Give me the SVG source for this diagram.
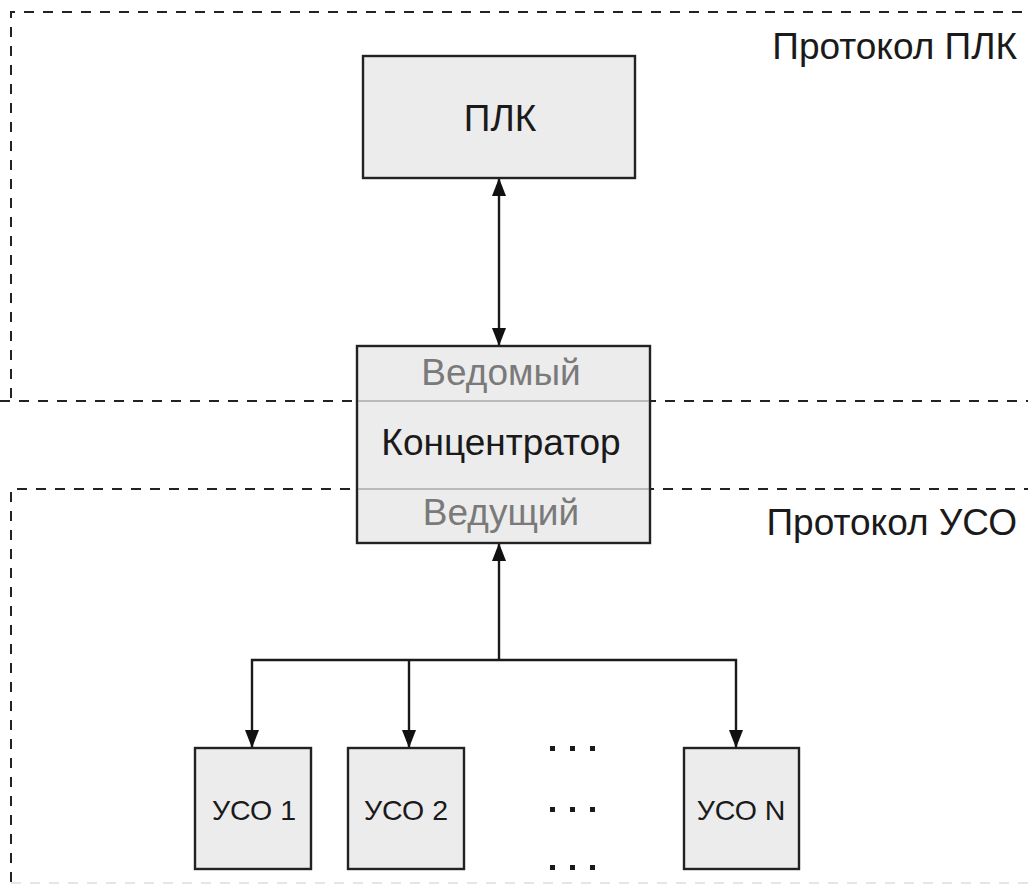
<svg xmlns="http://www.w3.org/2000/svg" width="1028" height="886" viewBox="0 0 1028 886">
<style>
.zone{fill:none;stroke:#222;stroke-width:2;stroke-dasharray:10 9}
.zonefaint{fill:none;stroke:#ddd;stroke-width:1.6;stroke-dasharray:10 9}
.box{fill:#ececec;stroke:#222;stroke-width:2.4}
.sep{stroke:#888;stroke-width:1}
.t{font-family:"Liberation Sans",Arial,sans-serif;fill:#1a1a1a}
.g{font-family:"Liberation Sans",Arial,sans-serif;fill:#7a7a7a}
.conn{fill:none;stroke:#1a1a1a;stroke-width:2.4}
.dot{fill:#1a1a1a}
</style>
<defs>
<marker id="ahs" viewBox="0 0 18 14" refX="18" refY="7" markerWidth="18" markerHeight="14" markerUnits="userSpaceOnUse" orient="auto-start-reverse">
<path d="M0,0 L18,7 L0,14 Z" fill="#111"/>
</marker>
</defs>
<g id="zones">
<path class="zone" d="M11,398 L11,12 L1028,12"/>
<path class="zone" d="M0,401 L1028,401"/>
<path class="zone" d="M11,882 L11,489 L1028,489"/>
<path class="zonefaint" d="M11,883 L1028,883"/>
<text class="t" x="1017" y="59" font-size="37" text-anchor="end">Протокол ПЛК</text>
<text class="t" x="1017" y="535" font-size="37" text-anchor="end">Протокол УСО</text>
</g>
<g id="connectors">
<line class="conn" x1="499" y1="346" x2="499" y2="178" marker-start="url(#ahs)" marker-end="url(#ahs)"/>
<line class="conn" x1="499" y1="660" x2="499" y2="543" marker-end="url(#ahs)"/>
<path class="conn" d="M252,748 L252,660 L736,660 L736,748" marker-start="url(#ahs)" marker-end="url(#ahs)"/>
<line class="conn" x1="409" y1="660" x2="409" y2="748" marker-end="url(#ahs)"/>
</g>
<g id="plc">
<rect class="box" x="363" y="56" width="272" height="122"/>
<text class="t" x="500" y="131" font-size="37" text-anchor="middle">ПЛК</text>
</g>
<g id="hub">
<rect class="box" x="357" y="346" width="293" height="197"/>
<line class="sep" x1="358" y1="401" x2="649" y2="401"/>
<line class="sep" x1="358" y1="489" x2="649" y2="489"/>
<text class="g" x="501" y="385" font-size="37" text-anchor="middle">Ведомый</text>
<text class="t" x="501" y="455" font-size="37" text-anchor="middle">Концентратор</text>
<text class="g" x="501" y="525" font-size="37" text-anchor="middle">Ведущий</text>
</g>
<g id="uso1">
<rect class="box" x="195" y="748" width="116" height="121"/>
<text class="t" x="254" y="820" font-size="28.5" text-anchor="middle">УСО 1</text>
</g>
<g id="uso2">
<rect class="box" x="348" y="748" width="116" height="121"/>
<text class="t" x="406" y="820" font-size="28.5" text-anchor="middle">УСО 2</text>
</g>
<g id="dots">
<rect class="dot" x="550" y="746" width="5" height="5"/>
<rect class="dot" x="570" y="746" width="5" height="5"/>
<rect class="dot" x="590" y="746" width="5" height="5"/>
<rect class="dot" x="550" y="807" width="5" height="5"/>
<rect class="dot" x="570" y="807" width="5" height="5"/>
<rect class="dot" x="590" y="807" width="5" height="5"/>
<rect class="dot" x="550" y="865" width="5" height="5"/>
<rect class="dot" x="570" y="865" width="5" height="5"/>
<rect class="dot" x="590" y="865" width="5" height="5"/>
</g>
<g id="uson">
<rect class="box" x="684" y="748" width="115" height="121"/>
<text class="t" x="741" y="820" font-size="28.5" text-anchor="middle">УСО N</text>
</g>
</svg>
